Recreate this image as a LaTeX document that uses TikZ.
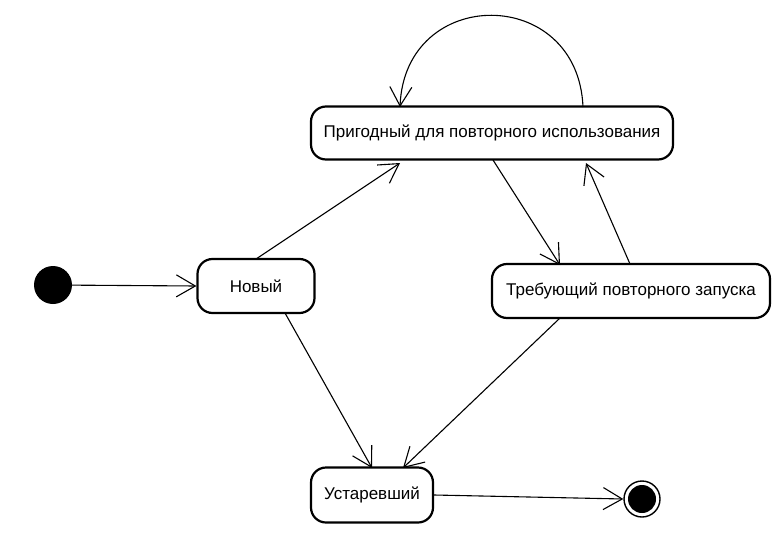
\documentclass[tikz,border=0pt]{standalone}
\usepackage{fontspec}
\setmainfont{Liberation Sans}
\usetikzlibrary{arrows.meta}
\begin{document}
\begin{tikzpicture}[x=1pt,y=-1pt,
  state/.style={draw=black, line width=2.2pt, rounded corners=15pt, inner sep=0pt, font=\fontsize{17}{20}\selectfont, align=center},
  edge/.style={line width=1.1pt, -{Straight Barb[length=19pt,width=22pt,line width=1.1pt]}}
]
\useasboundingbox (0,0) rectangle (784,538);
\fill[white] (0,0) rectangle (784,538);
\node[circle, fill=black, minimum size=38pt, inner sep=0pt] (init) at (53,285) {};
\node[state, minimum width=117pt, minimum height=54pt] (new) at (256,286) {Новый};
\node[state, minimum width=362pt, minimum height=53pt] (reuse) at (492,133) {Пригодный для повторного использования};
\node[state, minimum width=278pt, minimum height=54pt] (restart) at (631,291) {Требующий повторного запуска};
\node[state, minimum width=122pt, minimum height=55pt] (old) at (372,495) {Устаревший};
\node[circle, draw=black, line width=1.4pt, minimum size=36pt, inner sep=0pt] (final) at (642,499) {};
\node[circle, fill=black, minimum size=28pt, inner sep=0pt] (finalin) at (final.center) {};
\coordinate (lA) at (583,107);
\coordinate (lB) at (400,107);
\coordinate (nr) at (256,259);
\coordinate (rn) at (400,163);
\coordinate (rs1) at (493,160);
\coordinate (sr1) at (560,265);
\coordinate (sr2) at (630,264);
\coordinate (rs2) at (586,163);
\coordinate (no) at (285,313);
\coordinate (on) at (372,468);
\coordinate (so) at (560,318);
\coordinate (os) at (403,468);
\draw[edge] (init) -- (new.west);
\draw[edge] (nr) -- (rn);
\draw[edge] (rs1) -- (sr1);
\draw[edge] (sr2) -- (rs2);
\draw[edge] (lA) .. controls (578,-15) and (405,-15) .. (lB);
\draw[edge] (no) -- (on);
\draw[edge] (so) -- (os);
\draw[edge] (old.east) -- (final.west);
\end{tikzpicture}
\end{document}
